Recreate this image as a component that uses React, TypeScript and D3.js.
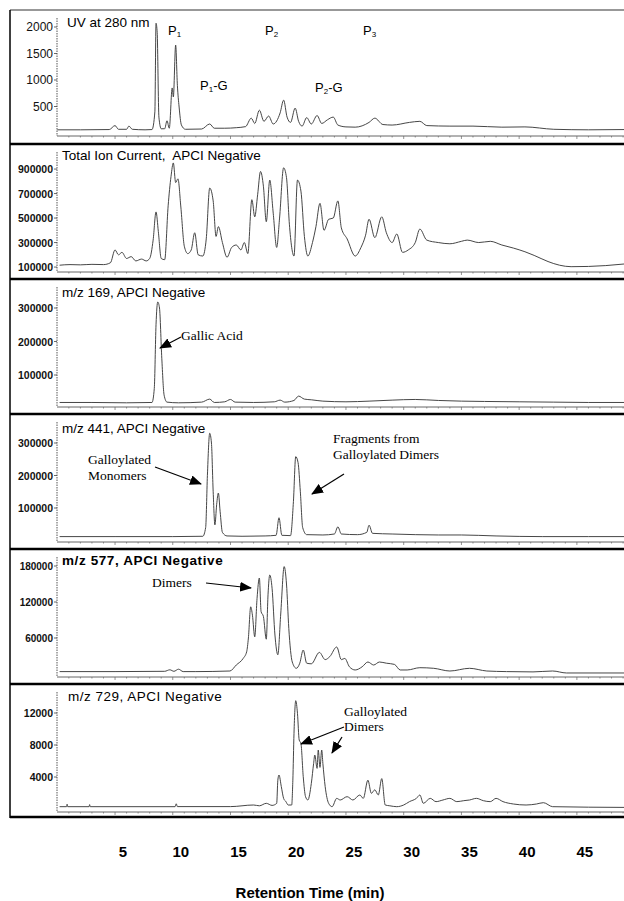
import React from 'react';
import * as d3 from 'd3';

// retention time (min), signal
const uvTrace: [number, number][] = [
  [0, 60], [2, 60], [4.5, 65], [5.0, 140], [5.3, 70], [6.0, 70], [6.2, 130], [6.5, 70], [7.6, 60], [8.2, 65],
  [8.45, 400], [8.55, 2070], [8.65, 1900], [8.8, 300], [9.0, 80], [9.3, 80], [9.5, 230], [9.7, 90], [9.95, 850],
  [10.05, 680], [10.25, 1660], [10.4, 900], [10.55, 490], [10.75, 150], [11.1, 70], [12.5, 75], [13.2, 170],
  [13.6, 90], [14.5, 90], [15.5, 100], [16.3, 120], [16.8, 280], [17.1, 180], [17.5, 430], [17.9, 220],
  [18.3, 320], [18.7, 170], [19.3, 380], [19.6, 620], [19.9, 300], [20.2, 200], [20.6, 470], [20.9, 220],
  [21.2, 130], [21.6, 290], [22.0, 170], [22.5, 330], [22.9, 180], [23.4, 250], [23.9, 300], [24.3, 150],
  [25.0, 115], [25.8, 110], [27.0, 200], [27.5, 280], [28.2, 160], [29.0, 150], [30.5, 200], [31.4, 220],
  [32.0, 140], [34.0, 130], [36.0, 130], [38.5, 110], [40.5, 115], [43.0, 70], [46.0, 60], [49.1, 65],
];

const ticTrace: [number, number][] = [
  [0.2, 115000], [1.1, 120000], [2.0, 118000], [3.0, 122000], [4.0, 120000], [4.6, 135000], [5.0, 240000],
  [5.3, 200000], [5.6, 220000], [6.0, 170000], [6.4, 185000], [6.8, 150000], [7.3, 165000], [7.7, 150000],
  [8.0, 170000], [8.3, 320000], [8.55, 550000], [8.75, 390000], [9.0, 170000], [9.3, 160000], [9.6, 600000],
  [9.85, 840000], [10.05, 950000], [10.25, 790000], [10.45, 820000], [10.7, 590000], [11.0, 270000],
  [11.3, 210000], [11.6, 240000], [11.9, 380000], [12.2, 200000], [12.6, 190000], [12.9, 330000],
  [13.2, 745000], [13.5, 640000], [13.75, 350000], [13.95, 430000], [14.3, 300000], [14.7, 180000],
  [15.1, 260000], [15.5, 280000], [15.9, 240000], [16.2, 300000], [16.5, 210000], [16.85, 650000],
  [17.1, 510000], [17.35, 690000], [17.6, 880000], [17.85, 760000], [18.1, 470000], [18.4, 810000],
  [18.7, 540000], [19.0, 260000], [19.25, 500000], [19.6, 910000], [19.85, 830000], [20.1, 450000],
  [20.5, 190000], [20.8, 810000], [21.1, 720000], [21.4, 350000], [21.7, 190000], [22.1, 300000],
  [22.4, 430000], [22.75, 620000], [23.1, 400000], [23.5, 490000], [23.9, 500000], [24.3, 640000],
  [24.6, 420000], [25.1, 330000], [25.8, 190000], [26.3, 260000], [26.7, 360000], [27.0, 490000],
  [27.5, 340000], [28.1, 510000], [28.5, 380000], [29.0, 300000], [29.4, 370000], [29.9, 220000],
  [30.4, 240000], [31.0, 300000], [31.4, 410000], [32.0, 320000], [33.0, 300000], [34.0, 290000],
  [35.0, 310000], [35.5, 320000], [36.5, 300000], [37.5, 310000], [38.5, 280000], [39.5, 255000],
  [40.5, 225000], [41.3, 195000], [42.5, 145000], [43.5, 115000], [44.5, 103000], [46.0, 105000],
  [47.5, 112000], [49.1, 125000],
];

const mz169Trace: [number, number][] = [
  [0.2, 18000], [3, 18000], [6, 17000], [8.2, 18000], [8.4, 60000], [8.55, 250000], [8.7, 318000],
  [8.85, 300000], [9.05, 150000], [9.25, 40000], [9.5, 19000], [10.5, 17000], [12.5, 19000], [13.2, 28000],
  [13.6, 18000], [14.5, 20000], [15.0, 27000], [15.4, 19000], [17.0, 18000], [18.8, 20000], [19.3, 25000],
  [19.7, 19000], [20.5, 24000], [20.9, 37000], [21.4, 28000], [22, 26000], [23, 22000], [25, 20000],
  [27, 22000], [29, 25000], [31, 27000], [33, 24000], [35, 22000], [37, 21000], [40, 20000], [43, 19000],
  [46, 18000], [49.1, 18000],
];

const mz441Trace: [number, number][] = [
  [0.2, 12000], [5, 12000], [10, 12000], [12.6, 13000], [12.85, 40000], [13.0, 200000], [13.2, 330000],
  [13.35, 300000], [13.5, 150000], [13.65, 48000], [13.8, 110000], [13.95, 146000], [14.1, 90000],
  [14.3, 25000], [14.7, 14000], [16, 13000], [18, 14000], [18.95, 16000], [19.2, 70000], [19.45, 16000],
  [20.2, 15000], [20.45, 120000], [20.65, 258000], [20.85, 240000], [21.05, 150000], [21.25, 40000],
  [21.6, 18000], [23.0, 17000], [24.0, 20000], [24.3, 42000], [24.6, 20000], [26.0, 18000], [26.8, 25000],
  [27.0, 47000], [27.3, 22000], [29, 20000], [31, 18000], [33, 17000], [35, 17000], [38, 14000],
  [42, 12000], [46, 12000], [49.1, 12000],
];

const mz577Trace: [number, number][] = [
  [0.2, 4000], [5, 4000], [9.3, 4500], [9.75, 7000], [10.1, 4500], [10.5, 8000], [10.9, 4000], [12, 4000],
  [14.95, 5000], [15.5, 15000], [16.1, 26000], [16.4, 37000], [16.55, 60000], [16.75, 112000], [16.9, 98000],
  [17.1, 62000], [17.3, 126000], [17.5, 160000], [17.65, 104000], [17.85, 96000], [18.1, 58000],
  [18.25, 132000], [18.4, 165000], [18.6, 143000], [18.85, 65000], [19.1, 32000], [19.35, 100000],
  [19.65, 179000], [19.85, 150000], [20.05, 76000], [20.35, 20000], [20.7, 9500], [21.0, 18000],
  [21.3, 40000], [21.6, 18000], [22.0, 17000], [22.7, 36000], [23.2, 24000], [23.6, 29000], [24.2, 45000],
  [24.6, 24000], [24.9, 26000], [25.3, 12000], [25.8, 6700], [26.4, 12000], [26.9, 20000], [27.4, 15000],
  [27.9, 20000], [28.5, 18000], [29.2, 16000], [29.7, 6700], [30.3, 6700], [31.4, 10500], [32.6, 9500],
  [34.0, 5000], [35.7, 9500], [37.2, 5000], [38.9, 4000], [41.2, 3500], [42.9, 5000], [44.1, 1700],
  [49.1, 1700],
];

const mz729Trace: [number, number][] = [
  [0.2, 290], [0.8, 290], [0.85, 600], [0.9, 290], [2.75, 290], [2.8, 550], [2.85, 290], [10.2, 290],
  [10.3, 650], [10.4, 300], [15, 300], [17.0, 500], [17.5, 400], [18.1, 710], [18.6, 450], [19.0, 700],
  [19.1, 3600], [19.2, 4250], [19.4, 2800], [19.6, 1330], [19.8, 920], [20.0, 500], [20.3, 500],
  [20.4, 3600], [20.5, 9460], [20.65, 13540], [20.8, 11960], [20.95, 8625], [21.1, 8200], [21.3, 4040],
  [21.5, 1540], [21.7, 1125], [22.0, 3200], [22.2, 5700], [22.3, 6750], [22.5, 5080], [22.6, 7370],
  [22.75, 5200], [22.9, 7370], [23.0, 5700], [23.2, 2800], [23.5, 710], [23.8, 290], [24.2, 1330],
  [24.5, 1125], [25.1, 1540], [25.6, 1125], [26.2, 1750], [26.5, 1330], [26.9, 3600], [27.2, 1960],
  [27.5, 2400], [27.8, 1750], [28.1, 3800], [28.4, 500], [28.8, 400], [29.4, 290], [30.0, 500],
  [30.5, 920], [31.1, 1330], [31.4, 1750], [31.7, 710], [32.3, 1330], [32.8, 920], [33.4, 1125],
  [34.0, 1330], [34.6, 920], [35.2, 1040], [35.7, 1125], [36.3, 1330], [36.9, 1040], [37.5, 920],
  [38.0, 1330], [38.6, 920], [39.5, 625], [40.6, 500], [41.5, 625], [42.1, 790], [42.9, 290], [49.1, 200],
];

const uvTicks = [500, 1000, 1500, 2000];
const ticTicks = [100000, 300000, 500000, 700000, 900000];
const mz169Ticks = [100000, 200000, 300000];
const mz441Ticks = [100000, 200000, 300000];
const mz577Ticks = [60000, 120000, 180000];
const mz729Ticks = [4000, 8000, 12000];
const timeTicks = [5, 10, 15, 20, 25, 30, 35, 40, 45];

const W = 624;
const H = 901;
const SANS = "'Liberation Sans', Arial, sans-serif";
const SERIF = "'Liberation Serif', 'Times New Roman', serif";

const x = d3.scaleLinear().domain([0, 49.6]).range([57.3, 630]);

const panels = [
  { title: 'UV at 280 nm', data: uvTrace, ticks: uvTicks, max: 2000, zeroY: 133, maxY: 27, top: 10, axisY: 136, sep: 144, titleY: 27, titleX: 67, titleWeight: 400, titleSpacing: 0, tickBold: false, tickSize: 12 },
  { title: 'Total Ion Current,  APCI Negative', data: ticTrace, ticks: ticTicks, max: 1000000, zeroY: 279.3, maxY: 156.8, top: 144, axisY: 272, sep: 279, titleY: 160, titleX: 62, titleWeight: 400, titleSpacing: 0, tickBold: true, tickSize: 10.5 },
  { title: 'm/z 169, APCI Negative', data: mz169Trace, ticks: mz169Ticks, max: 300000, zeroY: 408.5, maxY: 308, top: 279, axisY: 407, sep: 414, titleY: 297, titleX: 62, titleWeight: 400, titleSpacing: 0, tickBold: true, tickSize: 10.5 },
  { title: 'm/z 441, APCI Negative', data: mz441Trace, ticks: mz441Ticks, max: 300000, zeroY: 540.5, maxY: 443, top: 414, axisY: 542, sep: 549, titleY: 433, titleX: 62, titleWeight: 400, titleSpacing: 0, tickBold: true, tickSize: 10.5 },
  { title: 'm/z 577, APCI Negative', data: mz577Trace, ticks: mz577Ticks, max: 180000, zeroY: 674, maxY: 566, top: 549, axisY: 677, sep: 684, titleY: 565, titleX: 62, titleWeight: 700, titleSpacing: 0.6, tickBold: true, tickSize: 10 },
  { title: 'm/z 729, APCI Negative', data: mz729Trace, ticks: mz729Ticks, max: 12000, zeroY: 809, maxY: 713, top: 684, axisY: 812, sep: 817, titleY: 701, titleX: 68, titleWeight: 400, titleSpacing: 0.5, tickBold: true, tickSize: 10.5 },
];

const Arrow = ({ x1, y1, x2, y2 }: { x1: number; y1: number; x2: number; y2: number }) => (
  <line x1={x1} y1={y1} x2={x2} y2={y2} stroke="#000" strokeWidth={1.2} markerEnd="url(#arrowHead)" />
);

const PLabel = ({ sub, suffix, px, py }: { sub: string; suffix?: string; px: number; py: number }) => (
  <text x={px} y={py} fontFamily={SANS} fontSize={13}>
    P
    <tspan fontSize={8} dy={2}>{sub}</tspan>
    {suffix ? <tspan dy={-2}>{suffix}</tspan> : null}
  </text>
);

export default function App() {
  return (
    <svg width={W} height={H} style={{ position: 'absolute', left: 0, top: 0, background: '#fff' }}>
      <defs>
        <marker id="arrowHead" markerUnits="userSpaceOnUse" markerWidth={12} markerHeight={10} refX={11} refY={5} orient="auto">
          <path d="M0,0 L12,5 L0,10 Z" fill="#000" />
        </marker>
      </defs>
      <rect x={0} y={0} width={W} height={H} fill="#fff" />

      {panels.map((p, i) => {
        const y = d3.scaleLinear().domain([0, p.max]).range([p.zeroY, p.maxY]);
        const line = d3.line<[number, number]>()
          .curve(d3.curveMonotoneX)
          .x(d => x(d[0]))
          .y(d => y(d[1]));
        return (
          <g key={i}>
            {/* y axis */}
            <line x1={57} x2={57} y1={p.top + 8} y2={p.axisY} stroke="#555" strokeWidth={1} strokeDasharray="1.5,1" />
            {p.ticks.map(t => (
              <g key={t}>
                <line x1={54} x2={57} y1={y(t)} y2={y(t)} stroke="#444" strokeWidth={0.8} />
                <text x={53} y={y(t) + 4} textAnchor="end" fontFamily={SANS}
                  fontWeight={p.tickBold ? 700 : 400} fontSize={p.tickSize} fill="#111">{t}</text>
              </g>
            ))}
            {/* x axis */}
            <line x1={57} x2={W} y1={p.axisY} y2={p.axisY} stroke="#555" strokeWidth={0.9} />
            {d3.range(1, 50).map(t => (
              <line key={t} x1={x(t)} x2={x(t)} y1={p.axisY} y2={p.axisY + (t % 5 === 0 ? 3 : 1.5)} stroke="#666" strokeWidth={0.7} />
            ))}
            {/* trace */}
            <path d={line(p.data) || ''} fill="none" stroke="#3c3c3c" strokeWidth={0.95} />
            {/* title */}
            <text x={p.titleX} y={p.titleY} fontFamily={SANS} fontSize={13.5} fontWeight={p.titleWeight}
              letterSpacing={p.titleSpacing} fill="#000" style={{ whiteSpace: 'pre' }}>{p.title}</text>
            {/* separator */}
            <line x1={10} x2={W} y1={p.sep} y2={p.sep} stroke="#000" strokeWidth={2.4} />
          </g>
        );
      })}

      {/* frame */}
      <line x1={10} x2={W} y1={10} y2={10} stroke="#333" strokeWidth={1.2} />
      <line x1={10} x2={10} y1={10} y2={818} stroke="#000" strokeWidth={1.5} />

      {/* UV peak labels */}
      <PLabel sub="1" px={168} py={35} />
      <PLabel sub="1" suffix="-G" px={200} py={90} />
      <PLabel sub="2" px={265} py={35} />
      <PLabel sub="2" suffix="-G" px={315} py={92} />
      <PLabel sub="3" px={363} py={35} />

      {/* annotations */}
      <text x={181} y={340} fontFamily={SERIF} fontSize={13.5}>Gallic Acid</text>
      <Arrow x1={181} y1={337} x2={160} y2={348} />

      <text x={88} y={464} fontFamily={SERIF} fontSize={13.5}>Galloylated</text>
      <text x={88} y={480} fontFamily={SERIF} fontSize={13.5}>Monomers</text>
      <Arrow x1={155} y1={467} x2={201} y2={484} />

      <text x={333} y={443} fontFamily={SERIF} fontSize={13.5}>Fragments from</text>
      <text x={333} y={459} fontFamily={SERIF} fontSize={13.5}>Galloylated Dimers</text>
      <Arrow x1={344} y1={474} x2={312} y2={494} />

      <text x={152} y={587} fontFamily={SERIF} fontSize={13.5}>Dimers</text>
      <Arrow x1={206} y1={583} x2={251} y2={588} />

      <text x={344} y={716} fontFamily={SERIF} fontSize={13.5}>Galloylated</text>
      <text x={344} y={731} fontFamily={SERIF} fontSize={13.5}>Dimers</text>
      <Arrow x1={344} y1={727} x2={301} y2={744} />
      <Arrow x1={342} y1={737} x2={332} y2={753} />

      {/* time axis labels */}
      {timeTicks.map(t => (
        <text key={t} x={x(t) + 8} y={857} textAnchor="middle" fontFamily={SANS} fontWeight={700} fontSize={15}>{t}</text>
      ))}
      <text x={310} y={898} textAnchor="middle" fontFamily={SANS} fontWeight={700} fontSize={15}>Retention Time (min)</text>
    </svg>
  );
}
